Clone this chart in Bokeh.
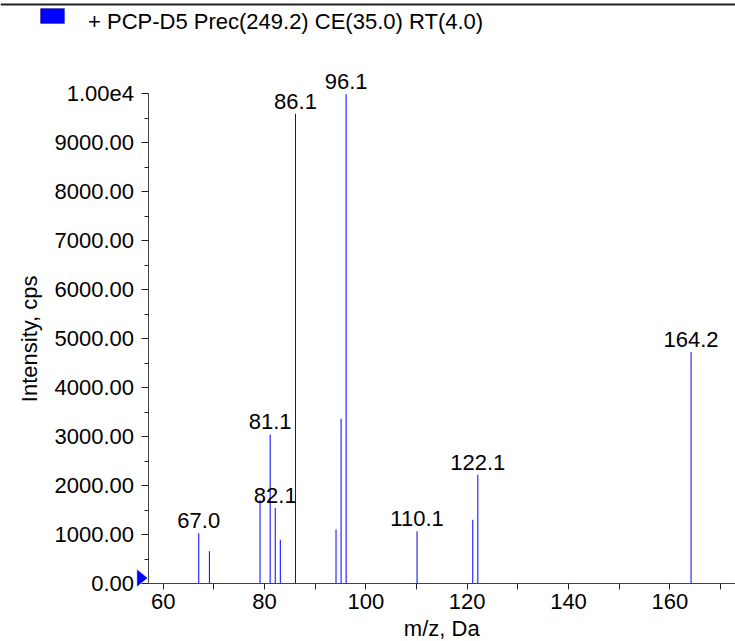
import math
from bokeh.plotting import figure
from bokeh.models import (ColumnDataSource, FixedTicker, LabelSet, Label,
                          PolyAnnotation, Range1d, LinearAxis, Span)
from bokeh.core.properties import value
from bokeh.embed import file_html
from bokeh.resources import INLINE

# ---- data -------------------------------------------------------------
mz = [67.0, 69.1, 79.1, 81.1, 82.1, 83.1, 86.1, 94.1, 95.1, 96.1,
      110.1, 121.1, 122.1, 164.2]
intensity = [1033, 665, 1714, 3047, 1551, 898, 9592, 1108, 3367, 9990,
             1073, 1306, 2224, 4727]
labelled_mz = [67.0, 81.1, 82.1, 86.1, 96.1, 110.1, 122.1, 164.2]

title_text = "+ PCP-D5 Prec(249.2) CE(35.0) RT(4.0)"
x_title = "m/z, Da"
y_title = "Intensity, cps"

x_major = [60, 80, 100, 120, 140, 160]
x_minor = [70, 90, 110, 130, 150, 170]
y_major = [0, 1000, 2000, 3000, 4000, 5000, 6000, 7000, 8000, 9000, 10000]
y_minor = [500, 1500, 2500, 3500, 4500, 5500, 6500, 7500, 8500, 9500]
y_tick_labels = ["0.00", "1000.00", "2000.00", "3000.00", "4000.00",
                 "5000.00", "6000.00", "7000.00", "8000.00", "9000.00",
                 "1.00e4"]

# ---- layout / style ---------------------------------------------------
FONT = "Liberation Sans"
FS = "22px"
BLUE = "#0000ff"

W, H = 735, 641
# pixel geometry of the reference: x=60 at px 162.8, 5.065 px per Da;
# intensity 0 at px 583.3, 0.049 px per count
PX60, PXDA = 162.8, 5.065
PY0, PYC = 583.3, 0.049
LBL_SHIFT = 8.5   # Label annotations render this much lower than asked

def dx(px):
    return 60 + (px - PX60) / PXDA

def dy(py):
    return (PY0 - py) / PYC

X0, X1 = dx(0), dx(W)
Y0, Y1 = dy(H), dy(0)
AXIS_X = dx(147.5)

p = figure(width=W, height=H, output_backend="svg", toolbar_location=None,
           x_range=Range1d(X0, X1), y_range=Range1d(Y0, Y1),
           x_axis_location=None, y_axis_location=None,
           min_border=0)
p.outline_line_color = None
p.grid.visible = False
p.background_fill_color = "white"
p.border_fill_color = "white"

src = ColumnDataSource(dict(xs=[[m, m] for m in mz],
                            ys=[[0, v] for v in intensity]))
p.multi_line(xs="xs", ys="ys", source=src, line_color=BLUE, line_width=1)

lab_y = [intensity[mz.index(m)] for m in labelled_mz]
lab_src = ColumnDataSource(dict(x=labelled_mz, y=lab_y,
                                t=["%.1f" % m for m in labelled_mz]))
p.add_layout(LabelSet(x="x", y="y", text="t", source=lab_src,
                      text_align="center", text_baseline="alphabetic",
                      y_offset=5, text_font=value(FONT),
                      text_font_size=value(FS), text_color="black"))

# axes (fixed inside the frame)
xa = LinearAxis(fixed_location=0, bounds=(AXIS_X, X1),
                ticker=FixedTicker(ticks=x_major, minor_ticks=x_minor))
xa.major_tick_in = 0
xa.minor_tick_in = 0
xa.major_tick_out = 6
xa.minor_tick_out = 6
xa.major_label_standoff = 4
ya = LinearAxis(fixed_location=AXIS_X, bounds=(0, 10000),
                ticker=FixedTicker(ticks=y_major, minor_ticks=y_minor))
ya.major_label_overrides = {v: s for v, s in zip(y_major, y_tick_labels)}
ya.major_tick_in = 0
ya.minor_tick_in = 0
ya.major_tick_out = 7
ya.minor_tick_out = 4
ya.major_label_standoff = 7
for ax in (xa, ya):
    ax.axis_line_color = "#444444"
    ax.major_tick_line_color = "#222222"
    ax.minor_tick_line_color = "#222222"
    ax.major_label_text_font = FONT
    ax.major_label_text_font_size = FS
    ax.major_label_text_color = "black"
p.add_layout(xa, "below")
p.add_layout(ya, "left")

# axis titles
p.add_layout(Label(x=(AXIS_X + X1) / 2, y=dy(636 - LBL_SHIFT), text=x_title,
                   text_align="center", text_baseline="alphabetic",
                   text_font=FONT, text_font_size=FS, text_color="black"))
p.add_layout(Label(x=dx(37.5 - LBL_SHIFT), y=5000, text=y_title,
                   angle=math.pi / 2,
                   text_align="center", text_baseline="alphabetic",
                   text_font=FONT, text_font_size=FS, text_color="black"))

# header: rule, swatch and text
p.add_layout(Span(location=dy(4), dimension="width",
                  line_color="#222222", line_width=2))
p.add_layout(PolyAnnotation(xs=[dx(40), dx(64), dx(64), dx(40)],
                            ys=[dy(8), dy(8), dy(23), dy(23)],
                            fill_color=BLUE, fill_alpha=1,
                            line_color="#000033", line_width=1))
p.add_layout(Label(x=dx(87.5), y=dy(29 - LBL_SHIFT), text=title_text,
                   text_align="left", text_baseline="alphabetic",
                   text_font=FONT, text_font_size=FS, text_color="black"))

# blue marker at the origin of the y axis
p.add_layout(PolyAnnotation(xs=[dx(136.7), dx(146.7), dx(136.7)],
                            ys=[dy(569.3), dy(577.5), dy(585.7)],
                            fill_color=BLUE, fill_alpha=1,
                            line_color=BLUE, line_width=1))

open("out.html", "w").write(file_html(p, INLINE))
